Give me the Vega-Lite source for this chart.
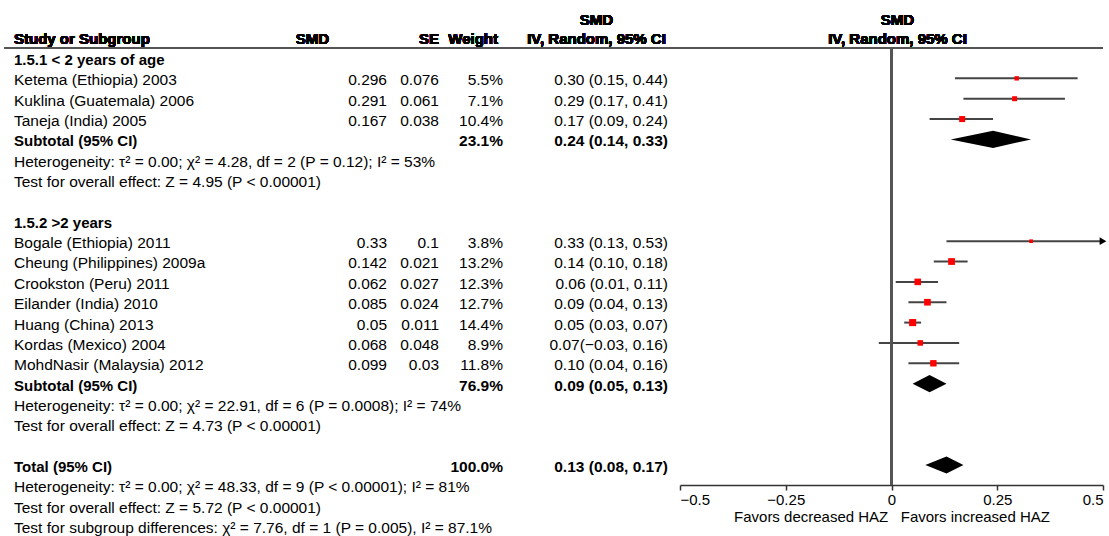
{
  "$schema": "https://vega.github.io/schema/vega-lite/v6.json",
  "padding": {"left": 3, "right": 0, "top": 0, "bottom": 0},
  "background": "#ffffff",
  "bounds": "flush",
  "spacing": 0,
  "config": {
    "view": {"stroke": null},
    "text": {"font": "Liberation Sans", "fontSize": 15.5, "color": "#000000"}
  },
  "datasets": {
    "table": [
      {"row": 0, "label": "1.5.1 < 2 years of age", "b": 1, "type": "head"},
      {"row": 1, "label": "Ketema (Ethiopia) 2003", "b": 0, "type": "study", "smd": "0.296", "se": "0.076", "weight": "5.5%", "ci": "0.30 (0.15, 0.44)", "est": 0.296, "lo": 0.15, "hi": 0.44, "w": 5.5},
      {"row": 2, "label": "Kuklina (Guatemala) 2006", "b": 0, "type": "study", "smd": "0.291", "se": "0.061", "weight": "7.1%", "ci": "0.29 (0.17, 0.41)", "est": 0.291, "lo": 0.17, "hi": 0.41, "w": 7.1},
      {"row": 3, "label": "Taneja (India) 2005", "b": 0, "type": "study", "smd": "0.167", "se": "0.038", "weight": "10.4%", "ci": "0.17 (0.09, 0.24)", "est": 0.167, "lo": 0.09, "hi": 0.24, "w": 10.4},
      {"row": 4, "label": "Subtotal (95% CI)", "b": 1, "type": "summary", "weight": "23.1%", "ci": "0.24 (0.14, 0.33)", "est": 0.24, "lo": 0.14, "hi": 0.33},
      {"row": 5, "label": "Heterogeneity: τ² = 0.00; χ² = 4.28, df = 2 (P = 0.12); I² = 53%", "b": 0, "type": "note"},
      {"row": 6, "label": "Test for overall effect: Z = 4.95 (P < 0.00001)", "b": 0, "type": "note"},
      {"row": 8, "label": "1.5.2 >2 years", "b": 1, "type": "head"},
      {"row": 9, "label": "Bogale (Ethiopia) 2011", "b": 0, "type": "study", "smd": "0.33", "se": "0.1", "weight": "3.8%", "ci": "0.33 (0.13, 0.53)", "est": 0.33, "lo": 0.13, "hi": 0.53, "w": 3.8},
      {"row": 10, "label": "Cheung (Philippines) 2009a", "b": 0, "type": "study", "smd": "0.142", "se": "0.021", "weight": "13.2%", "ci": "0.14 (0.10, 0.18)", "est": 0.142, "lo": 0.10, "hi": 0.18, "w": 13.2},
      {"row": 11, "label": "Crookston (Peru) 2011", "b": 0, "type": "study", "smd": "0.062", "se": "0.027", "weight": "12.3%", "ci": "0.06 (0.01, 0.11)", "est": 0.062, "lo": 0.01, "hi": 0.11, "w": 12.3},
      {"row": 12, "label": "Eilander (India) 2010", "b": 0, "type": "study", "smd": "0.085", "se": "0.024", "weight": "12.7%", "ci": "0.09 (0.04, 0.13)", "est": 0.085, "lo": 0.04, "hi": 0.13, "w": 12.7},
      {"row": 13, "label": "Huang (China) 2013", "b": 0, "type": "study", "smd": "0.05", "se": "0.011", "weight": "14.4%", "ci": "0.05 (0.03, 0.07)", "est": 0.05, "lo": 0.03, "hi": 0.07, "w": 14.4},
      {"row": 14, "label": "Kordas (Mexico) 2004", "b": 0, "type": "study", "smd": "0.068", "se": "0.048", "weight": "8.9%", "ci": "0.07(−0.03, 0.16)", "est": 0.068, "lo": -0.03, "hi": 0.16, "w": 8.9},
      {"row": 15, "label": "MohdNasir (Malaysia) 2012", "b": 0, "type": "study", "smd": "0.099", "se": "0.03", "weight": "11.8%", "ci": "0.10 (0.04, 0.16)", "est": 0.099, "lo": 0.04, "hi": 0.16, "w": 11.8},
      {"row": 16, "label": "Subtotal (95% CI)", "b": 1, "type": "summary", "weight": "76.9%", "ci": "0.09 (0.05, 0.13)", "est": 0.09, "lo": 0.05, "hi": 0.13},
      {"row": 17, "label": "Heterogeneity: τ² = 0.00; χ² = 22.91, df = 6 (P = 0.0008); I² = 74%", "b": 0, "type": "note"},
      {"row": 18, "label": "Test for overall effect: Z = 4.73 (P < 0.00001)", "b": 0, "type": "note"},
      {"row": 20, "label": "Total (95% CI)", "b": 1, "type": "summary", "weight": "100.0%", "ci": "0.13 (0.08, 0.17)", "est": 0.13, "lo": 0.08, "hi": 0.17},
      {"row": 21, "label": "Heterogeneity: τ² = 0.00; χ² = 48.33, df = 9 (P < 0.00001); I² = 81%", "b": 0, "type": "note"},
      {"row": 22, "label": "Test for overall effect: Z = 5.72 (P < 0.00001)", "b": 0, "type": "note"},
      {"row": 23, "label": "Test for subgroup differences: χ² = 7.76, df = 1 (P = 0.005), I² = 87.1%", "b": 0, "type": "note"}
    ]
  },
  "hconcat": [
    {
      "width": 383, "height": 536,
      "data": {"name": "table"},
      "layer": [
        {"mark": {"type": "rule", "color": "#555555", "strokeWidth": 1.5},
         "encoding": {"y": {"datum": -0.49, "type": "quantitative", "scale": {"domain": [-2.85, 23.49], "reverse": true, "nice": false, "zero": false}, "axis": null}}},
        {"transform": [{"filter": "datum.b == 0"}],
         "mark": {"type": "text", "align": "left", "dx": 10, "dy": 2},
         "encoding": {
           "x": {"datum": 0, "type": "quantitative", "scale": {"domain": [0, 1]}, "axis": null},
           "y": {"field": "row", "type": "quantitative", "axis": null},
           "text": {"field": "label"}}},
        {"transform": [{"filter": "datum.b == 1"}],
         "mark": {"type": "text", "align": "left", "dx": 10, "dy": 2, "fontWeight": "bold", "fontSize": 15},
         "encoding": {
           "x": {"datum": 0, "type": "quantitative", "axis": null},
           "y": {"field": "row", "type": "quantitative", "axis": null},
           "text": {"field": "label"}}},
        {"transform": [{"filter": "datum.smd"}],
         "mark": {"type": "text", "align": "right", "dx": 0, "dy": 2},
         "encoding": {
           "x": {"datum": 1, "type": "quantitative", "axis": null},
           "y": {"field": "row", "type": "quantitative", "axis": null},
           "text": {"field": "smd"}}},
        {"mark": {"type": "text", "align": "left", "dx": 10, "dy": 1, "fontWeight": "bold", "fontSize": 15, "text": "Study or Subgroup"},
         "encoding": {
           "x": {"datum": 0, "type": "quantitative", "axis": null},
           "y": {"datum": -1, "type": "quantitative", "axis": null}}},
        {"mark": {"type": "text", "align": "right", "dx": -58, "dy": 1, "fontWeight": "bold", "fontSize": 15, "text": "SMD"},
         "encoding": {
           "x": {"datum": 1, "type": "quantitative", "axis": null},
           "y": {"datum": -1, "type": "quantitative", "axis": null}}}
      ]
    },
    {
      "width": 52, "height": 536,
      "data": {"name": "table"},
      "layer": [
        {"mark": {"type": "rule", "color": "#555555", "strokeWidth": 1.5},
         "encoding": {"y": {"datum": -0.49, "type": "quantitative", "scale": {"domain": [-2.85, 23.49], "reverse": true, "nice": false, "zero": false}, "axis": null}}},
        {"transform": [{"filter": "datum.se"}],
         "mark": {"type": "text", "align": "right", "dy": 2},
         "encoding": {
           "x": {"datum": 1, "type": "quantitative", "scale": {"domain": [0, 1]}, "axis": null},
           "y": {"field": "row", "type": "quantitative", "axis": null},
           "text": {"field": "se"}}},
        {"mark": {"type": "text", "align": "right", "dy": 1, "fontWeight": "bold", "fontSize": 15, "text": "SE"},
         "encoding": {
           "x": {"datum": 1, "type": "quantitative", "axis": null},
           "y": {"datum": -1, "type": "quantitative", "axis": null}}}
      ]
    },
    {
      "width": 64, "height": 536,
      "data": {"name": "table"},
      "layer": [
        {"mark": {"type": "rule", "color": "#555555", "strokeWidth": 1.5},
         "encoding": {"y": {"datum": -0.49, "type": "quantitative", "scale": {"domain": [-2.85, 23.49], "reverse": true, "nice": false, "zero": false}, "axis": null}}},
        {"transform": [{"filter": "datum.weight && datum.b == 0"}],
         "mark": {"type": "text", "align": "right", "dy": 2},
         "encoding": {
           "x": {"datum": 1, "type": "quantitative", "scale": {"domain": [0, 1]}, "axis": null},
           "y": {"field": "row", "type": "quantitative", "axis": null},
           "text": {"field": "weight"}}},
        {"transform": [{"filter": "datum.weight && datum.b == 1"}],
         "mark": {"type": "text", "align": "right", "dy": 2, "fontWeight": "bold"},
         "encoding": {
           "x": {"datum": 1, "type": "quantitative", "axis": null},
           "y": {"field": "row", "type": "quantitative", "axis": null},
           "text": {"field": "weight"}}},
        {"mark": {"type": "text", "align": "right", "dx": -5, "dy": 1, "fontWeight": "bold", "fontSize": 15, "text": "Weight"},
         "encoding": {
           "x": {"datum": 1, "type": "quantitative", "axis": null},
           "y": {"datum": -1, "type": "quantitative", "axis": null}}}
      ]
    },
    {
      "width": 177, "height": 536,
      "data": {"name": "table"},
      "layer": [
        {"mark": {"type": "rule", "color": "#555555", "strokeWidth": 1.5},
         "encoding": {"y": {"datum": -0.49, "type": "quantitative", "scale": {"domain": [-2.85, 23.49], "reverse": true, "nice": false, "zero": false}, "axis": null}}},
        {"transform": [{"filter": "datum.ci && datum.b == 0"}],
         "mark": {"type": "text", "align": "right", "dx": -12, "dy": 2},
         "encoding": {
           "x": {"datum": 1, "type": "quantitative", "scale": {"domain": [0, 1]}, "axis": null},
           "y": {"field": "row", "type": "quantitative", "axis": null},
           "text": {"field": "ci"}}},
        {"transform": [{"filter": "datum.ci && datum.b == 1"}],
         "mark": {"type": "text", "align": "right", "dx": -12, "dy": 2, "fontWeight": "bold"},
         "encoding": {
           "x": {"datum": 1, "type": "quantitative", "axis": null},
           "y": {"field": "row", "type": "quantitative", "axis": null},
           "text": {"field": "ci"}}},
        {"mark": {"type": "text", "align": "center", "dx": 5, "dy": 1, "fontWeight": "bold", "fontSize": 15, "text": "SMD"},
         "encoding": {
           "x": {"datum": 0.5, "type": "quantitative", "axis": null},
           "y": {"datum": -1.9, "type": "quantitative", "axis": null}}},
        {"mark": {"type": "text", "align": "center", "dx": 5, "dy": 1, "fontWeight": "bold", "fontSize": 15, "text": "IV, Random, 95% CI"},
         "encoding": {
           "x": {"datum": 0.5, "type": "quantitative", "axis": null},
           "y": {"datum": -1, "type": "quantitative", "axis": null}}}
      ]
    },
    {
      "width": 423, "height": 485,
      "data": {"name": "table"},
      "layer": [
        {"mark": {"type": "rule", "color": "#555555", "strokeWidth": 1.5},
         "encoding": {"y": {"datum": -0.49, "type": "quantitative", "scale": {"domain": [-2.85, 20.98], "reverse": true, "nice": false, "zero": false}, "axis": null}}},
        {"transform": [{"filter": "datum.type == 'study'"}],
         "mark": {"type": "rule", "color": "#444444", "strokeWidth": 2},
         "encoding": {
           "x": {"field": "lo", "type": "quantitative", "scale": {"domain": [-0.5, 0.5], "nice": false, "zero": false, "clamp": true},
                 "axis": {"values": [-0.5, -0.25, 0, 0.25, 0.5], "format": ".2~f", "grid": false,
                          "title": "Favors decreased HAZ\u00a0\u00a0\u00a0Favors increased HAZ",
                          "domainColor": "#333333", "domainWidth": 1.5, "tickColor": "#333333", "tickWidth": 1.5, "tickSize": 5,
                          "labelFont": "Liberation Sans", "labelFontSize": 15, "labelColor": "#000000", "labelPadding": 2, "labelFlush": true,
                          "titleFont": "Liberation Sans", "titleFontSize": 15, "titleFontWeight": "normal", "titleColor": "#000000", "titlePadding": 2}},
           "x2": {"field": "hi"},
           "y": {"field": "row", "type": "quantitative", "axis": null}}},
        {"mark": {"type": "rule", "color": "#555555", "strokeWidth": 1.5},
         "encoding": {
           "x": {"datum": 0, "type": "quantitative"},
           "y": {"datum": -0.49, "type": "quantitative", "axis": null},
           "y2": {"datum": 20.98}}},
        {"transform": [{"filter": "datum.type == 'study'"}],
         "mark": {"type": "point", "shape": "square", "filled": true, "color": "#ff0000", "opacity": 1},
         "encoding": {
           "x": {"field": "est", "type": "quantitative"},
           "y": {"field": "row", "type": "quantitative", "axis": null},
           "size": {"field": "w", "type": "quantitative", "scale": {"domain": [0, 14.4], "range": [0, 50]}, "legend": null}}},
        {"transform": [{"filter": "datum.type == 'study' && datum.hi > 0.5"}],
         "mark": {"type": "point", "shape": "triangle-right", "filled": true, "color": "#000000", "opacity": 1, "size": 60},
         "encoding": {
           "x": {"field": "hi", "type": "quantitative"},
           "y": {"field": "row", "type": "quantitative", "axis": null}}},
        {"transform": [
           {"filter": "datum.type == 'summary'"},
           {"fold": ["lo", "est", "hi"], "as": ["vertex", "xv"]},
           {"calculate": "datum.vertex == 'est' ? 0.42 : 0", "as": "half"},
           {"calculate": "datum.row - datum.half", "as": "ytop"},
           {"calculate": "datum.row + datum.half", "as": "ybot"}],
         "mark": {"type": "area", "color": "#000000", "opacity": 1},
         "encoding": {
           "x": {"field": "xv", "type": "quantitative"},
           "y": {"field": "ytop", "type": "quantitative", "axis": null},
           "y2": {"field": "ybot"},
           "detail": {"field": "row"}}},
        {"mark": {"type": "text", "align": "center", "dx": 6, "dy": 1, "fontWeight": "bold", "fontSize": 15, "text": "SMD"},
         "encoding": {
           "x": {"datum": 0, "type": "quantitative"},
           "y": {"datum": -1.9, "type": "quantitative", "axis": null}}},
        {"mark": {"type": "text", "align": "center", "dx": 6, "dy": 1, "fontWeight": "bold", "fontSize": 15, "text": "IV, Random, 95% CI"},
         "encoding": {
           "x": {"datum": 0, "type": "quantitative"},
           "y": {"datum": -1, "type": "quantitative", "axis": null}}}
      ]
    },
    {
      "width": 7, "height": 536,
      "layer": [
        {"mark": {"type": "rule", "color": "#555555", "strokeWidth": 1.5},
         "encoding": {"y": {"datum": -0.49, "type": "quantitative", "scale": {"domain": [-2.85, 23.49], "reverse": true, "nice": false, "zero": false}, "axis": null}}}
      ]
    }
  ]
}
